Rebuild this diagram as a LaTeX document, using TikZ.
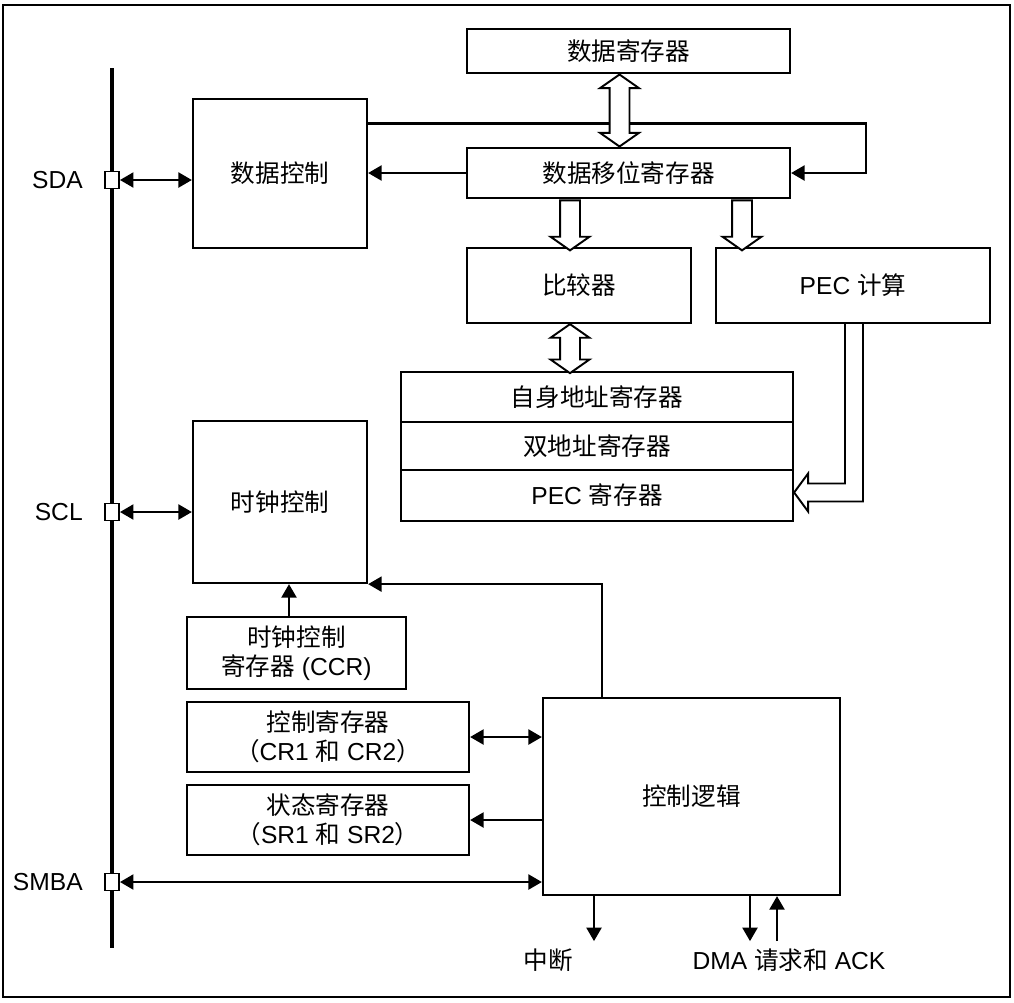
\documentclass[tikz,border=0pt]{standalone}
\usepackage{fontspec}
\setmainfont{Liberation Sans}
\newfontfamily\cjk{Noto Sans CJK SC}
\newcommand{\zhtext}[1]{{\cjk #1}}
\usetikzlibrary{arrows.meta, positioning, calc, shapes.arrows}

\begin{document}
\begin{tikzpicture}[
    x=0.02cm, y=-0.02cm,
    font=\fontsize{14}{16.5}\selectfont,
    block/.style={rectangle, draw, line width=1.3pt, align=center, inner sep=2pt},
    bus_pin/.style={rectangle, draw, fill=white, line width=1.1pt, minimum width=0.28cm, minimum height=0.34cm, inner sep=0pt},
    pin_label/.style={inner sep=0pt},
    arrow/.style={-{Triangle[length=2.7mm, width=3mm]}, line width=1.3pt},
    biarrow/.style={{Triangle[length=2.7mm, width=3mm]}-{Triangle[length=2.7mm, width=3mm]}, line width=1.3pt},
    hollow/.style={single arrow, draw, fill=white, line width=1.1pt, inner sep=0.18cm, minimum width=0.74cm, single arrow head extend=0.19cm, single arrow tip angle=110, shape border rotate=270},
    hollow_both/.style={double arrow, draw, fill=white, line width=1.1pt, inner sep=0.18cm, minimum width=0.74cm, double arrow head extend=0.19cm, double arrow tip angle=110, shape border rotate=90}
]
    \useasboundingbox (0,0) rectangle (1014,1002);
    \draw[line width=1.5pt] (3,5) rectangle (1010,997);

    % Bus lines
    \coordinate (bus_top) at (112,68);
    \coordinate (bus_bottom) at (112,948);
    \draw[line width=1.8pt] (bus_top) -- (bus_bottom);
    \node[bus_pin] (sda_pin) at (112,180) {};
    \node[bus_pin] (scl_pin) at (112,512) {};
    \node[bus_pin] (smba_pin) at (112,882) {};
    \node[pin_label, left=0.42cm of sda_pin] (sda_label) {SDA};
    \node[pin_label, left=0.42cm of scl_pin] (scl_label) {SCL};
    \node[pin_label, left=0.42cm of smba_pin] (smba_label) {SMBA};

    % Data path
    \node[block, minimum width=6.46cm, minimum height=0.88cm] (data_reg) at (628.5,51) {\zhtext{数据寄存器}};
    \node[block, minimum width=6.46cm, minimum height=1cm] (shift_reg) at (628.5,173) {\zhtext{数据移位寄存器}};
    \node[block, minimum width=3.48cm, minimum height=2.98cm] (data_ctrl) at (280,173.5) {\zhtext{数据控制}};
    \node[block, minimum width=4.48cm, minimum height=1.5cm] (comparator) at (579,285.5) {\zhtext{比较器}};
    \node[block, minimum width=5.48cm, minimum height=1.5cm] (pec_calc) at (853,285.5) {PEC \zhtext{计算}};
    \node[block, minimum width=7.84cm, minimum height=1cm] (own_addr) at (597,397) {\zhtext{自身地址寄存器}};
    \node[block, minimum width=7.84cm, minimum height=0.96cm, below=-1.3pt of own_addr] (dual_addr) {\zhtext{双地址寄存器}};
    \node[block, minimum width=7.84cm, minimum height=1.02cm, below=-1.3pt of dual_addr] (pec_reg) {PEC \zhtext{寄存器}};

    \draw[biarrow] (sda_pin.east) -- (sda_pin.east -| data_ctrl.west);
    \draw[arrow] (shift_reg.west) -- (shift_reg.west -| data_ctrl.east);
    \draw[arrow] ($(data_ctrl.east)+(0,-50)$) -- ++(498,0) |- (shift_reg.east);
    \node[hollow_both, minimum height=1.44cm] (data_bus) at ($(data_reg.south)!0.5!(shift_reg.north)+(-9,0)$) {};
    \node[hollow, minimum height=1cm] (to_comp) at ($(comparator.north)+(-9,-25)$) {};
    \node[hollow, minimum height=1cm] (to_pec) at ($(pec_calc.north)+(-111,-25)$) {};
    \node[hollow_both, minimum height=0.98cm] (addr_bus) at ($(comparator.south)+(-9,24.5)$) {};
    \draw[line width=1.1pt] ($(pec_calc.south)+(-8,0)$) |- ($(pec_reg.east)+(14,-12)$) -- ++(0,-10)
        -- ($(pec_reg.east)+(0,-3)$) -- ++(14,19) -- ++(0,-10) -| ($(pec_calc.south)+(10,0)$);

    % Clock and control
    \node[block, minimum width=3.48cm, minimum height=3.24cm] (clock_ctrl) at (280,502) {\zhtext{时钟控制}};
    \node[block, minimum width=4.38cm, minimum height=1.44cm] (ccr_reg) at (296.5,653) {\zhtext{时钟控制}\\\zhtext{寄存器} (CCR)};
    \node[block, minimum width=5.64cm, minimum height=1.4cm] (ctrl_reg) at (328,737) {\zhtext{控制寄存器}\\\zhtext{（}CR1 \zhtext{和} CR2\zhtext{）}};
    \node[block, minimum width=5.64cm, minimum height=1.4cm] (status_reg) at (328,820) {\zhtext{状态寄存器}\\\zhtext{（}SR1 \zhtext{和} SR2\zhtext{）}};
    \node[block, minimum width=5.94cm, minimum height=3.94cm] (ctrl_logic) at (691.5,796.5) {\zhtext{控制逻辑}};

    \draw[biarrow] (scl_pin.east) -- (scl_pin.east -| clock_ctrl.west);
    \draw[arrow] ([xshift=-0.15cm]ccr_reg.north) -- ([xshift=-0.15cm]ccr_reg.north |- clock_ctrl.south);
    \draw[arrow] ([xshift=-1.79cm]ctrl_logic.north) |- (clock_ctrl.south east);
    \draw[biarrow] (ctrl_reg.east) -- (ctrl_reg.east -| ctrl_logic.west);
    \draw[arrow] (status_reg.east -| ctrl_logic.west) -- (status_reg.east);
    \draw[biarrow] (smba_pin.east) -- (smba_pin.east -| ctrl_logic.west);

    % Interrupt and DMA
    \coordinate (irq_end) at ($(ctrl_logic.south)+(-97.5,45)$);
    \coordinate (dma_req_end) at ($(ctrl_logic.south)+(58.5,45)$);
    \coordinate (dma_ack_start) at ($(ctrl_logic.south)+(85.5,45)$);
    \draw[arrow] (irq_end |- ctrl_logic.south) -- (irq_end);
    \draw[arrow] (dma_req_end |- ctrl_logic.south) -- (dma_req_end);
    \draw[arrow] (dma_ack_start) -- (dma_ack_start |- ctrl_logic.south);
    \node (irq_label) at (548,960) {\zhtext{中断}};
    \node (dma_label) at (789,960) {DMA \zhtext{请求和} ACK};

\end{tikzpicture}
\end{document}
